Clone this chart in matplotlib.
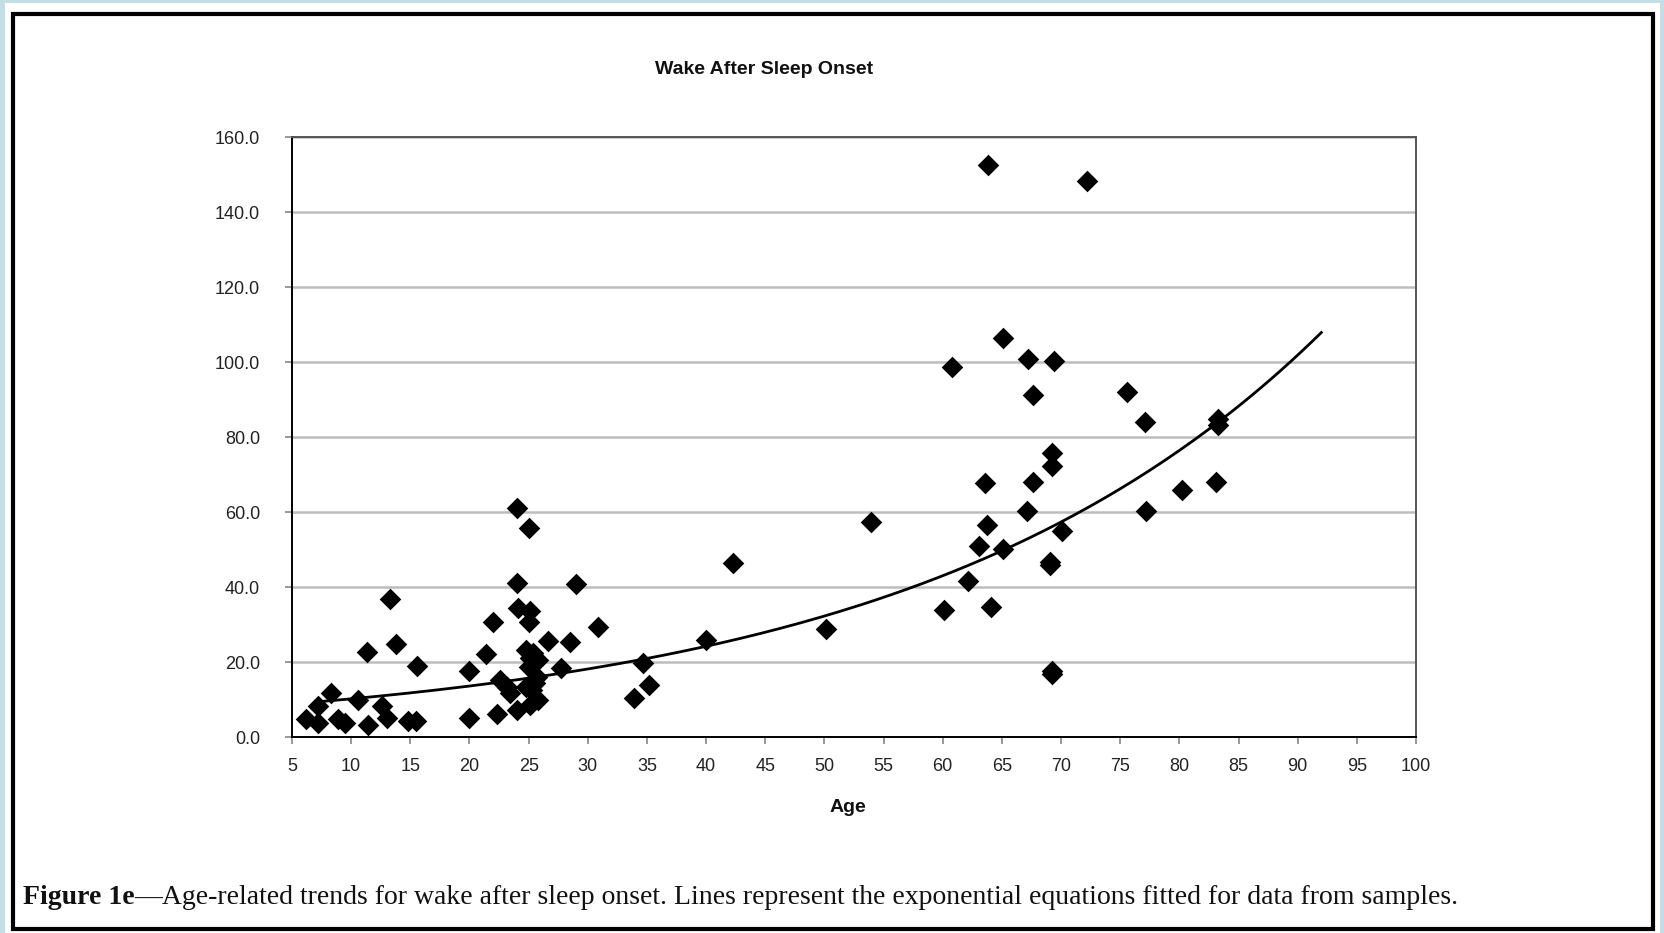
import matplotlib

matplotlib.use("Agg")
import matplotlib.pyplot as plt
import numpy as np
from matplotlib.patches import Rectangle

# data: age (years) vs wake after sleep onset (min)
AGE = [
    6.2, 7.2, 7.2, 8.3, 8.9, 9.5, 10.6, 11.4, 11.3, 12.6, 13.0, 13.3, 13.8,
    14.8, 15.5, 15.6,
    20.0, 20.0, 21.4, 22.0, 22.3, 22.6, 23.2, 23.4, 24.0, 24.0, 24.1, 24.0,
    24.8, 25.0, 25.1, 25.0, 24.8, 25.1, 25.0, 25.7, 25.1, 25.8, 25.4, 25.8,
    25.3, 25.5, 26.6, 27.7, 28.5, 29.0, 30.9,
    33.9, 34.7, 35.2, 40.0, 42.3, 50.1, 53.9,
    60.1, 60.8, 62.1, 63.1, 63.6, 63.7, 63.8, 64.1, 65.1, 65.1, 67.1, 67.2,
    67.6, 67.6, 69.1, 69.1, 69.2, 69.2, 69.2, 69.2, 69.4, 70.1, 72.2, 75.6,
    77.1, 77.2, 80.2, 83.1, 83.3, 83.3,
]
WASO = [
    4.8, 3.7, 8.3, 11.9, 4.8, 3.9, 9.9, 3.3, 22.7, 8.3, 5.1, 36.8, 24.8,
    4.4, 4.4, 19.1,
    17.8, 5.2, 22.2, 30.8, 6.2, 15.3, 13.3, 11.7, 61.1, 41.2, 34.4, 7.3,
    13.5, 55.7, 33.8, 30.8, 23.3, 21.1, 18.8, 16.2, 8.5, 10.0, 22.5, 20.5,
    12.5, 14.5, 25.6, 18.4, 25.5, 40.8, 29.5,
    10.4, 19.9, 13.9, 25.9, 46.6, 28.9, 57.5,
    33.9, 98.8, 41.7, 51.1, 67.7, 56.6, 152.6, 34.7, 106.4, 50.2, 60.3, 100.8,
    91.3, 68.2, 46.8, 45.9, 75.7, 72.4, 17.8, 17.0, 100.3, 55.0, 148.4, 92.0,
    84.2, 60.3, 65.9, 68.2, 85.0, 83.3,
]

# exponential trend line y = a * exp(b * age), parameters
EXP_A = 7.7
EXP_B = 0.0287
FIT_RANGE = (7.0, 92.0)

X_TICKS = list(range(5, 101, 5))
Y_TICKS = [0, 20, 40, 60, 80, 100, 120, 140, 160]

TITLE = "Wake After Sleep Onset"
XLABEL = "Age"
CAP_BOLD = "Figure 1e"
CAP_REST = ("\u2014Age-related trends for wake after sleep onset. Lines represent "
            "the exponential equations fitted for data from samples.")

W, H = 1664, 933
SANS = ["Liberation Sans Narrow", "Liberation Sans", "DejaVu Sans"]
SERIF = ["Liberation Serif", "DejaVu Serif"]


def px(x, y):
    return x / W, 1 - y / H


def main():
    fig = plt.figure(figsize=(W / 100, H / 100), dpi=100, facecolor="#c3dfe5")

    # page background and black frame
    fig.add_artist(Rectangle((5 / W, 0), (W - 9) / W, (H - 3) / H,
                             transform=fig.transFigure, facecolor="white",
                             edgecolor="none", zorder=-2))
    fig.add_artist(Rectangle((13 / W, 4 / H), (W - 24) / W, (H - 18) / H,
                             transform=fig.transFigure, facecolor="none",
                             edgecolor="black", linewidth=3, zorder=5))

    l, b = px(292, 737.3)
    r, t = px(1416, 137.3)
    ax = fig.add_axes([l, b, r - l, t - b])
    ax.set_facecolor("white")

    ax.scatter(AGE, WASO, marker="D", s=11 ** 2, color="black",
               linewidths=0, zorder=3)
    xs = np.linspace(FIT_RANGE[0], FIT_RANGE[1], 200)
    ax.plot(xs, EXP_A * np.exp(EXP_B * xs), color="black", lw=2.0, zorder=4)

    ax.set_xlim(5, 100)
    ax.set_ylim(0, 160)
    ax.set_xticks(X_TICKS)
    ax.set_yticks(Y_TICKS)
    ax.set_yticklabels([f"{v:.1f}" for v in Y_TICKS])
    ax.yaxis.grid(True, color="#bdbdbd", linewidth=1.8)
    ax.set_axisbelow(True)
    for sp in ax.spines.values():
        sp.set_color("black")
        sp.set_linewidth(1.4)
    ax.spines["top"].set_color("#555555")
    ax.spines["right"].set_color("#555555")
    ax.tick_params(axis="y", direction="out", length=5, width=1.2,
                   color="#888888", pad=18, labelsize=13, labelcolor="#222222")
    ax.tick_params(axis="x", direction="out", length=5, width=1.2,
                   color="#888888", pad=10, labelsize=13, labelcolor="#222222")
    for lab in ax.get_xticklabels() + ax.get_yticklabels():
        lab.set_family(SANS)

    fig.text(*px(764, 69), TITLE, ha="center", va="center", fontsize=14,
             weight="bold", family=SANS, color="#111111")
    fig.text(*px(848, 808), XLABEL, ha="center", va="center", fontsize=14,
             weight="bold", family=SANS, color="#111111")

    cap = fig.text(*px(23, 897), CAP_BOLD, ha="left", va="center",
                   fontsize=20, weight="bold", family=SERIF, color="#111111")
    ax.annotate(CAP_REST, xy=(1, 0.5), xycoords=cap, ha="left", va="center",
                fontsize=20, family=SERIF, color="#111111",
                annotation_clip=False)

    fig.savefig("out.png", dpi=100, facecolor=fig.get_facecolor())
    plt.close(fig)


if __name__ == "__main__":
    main()
